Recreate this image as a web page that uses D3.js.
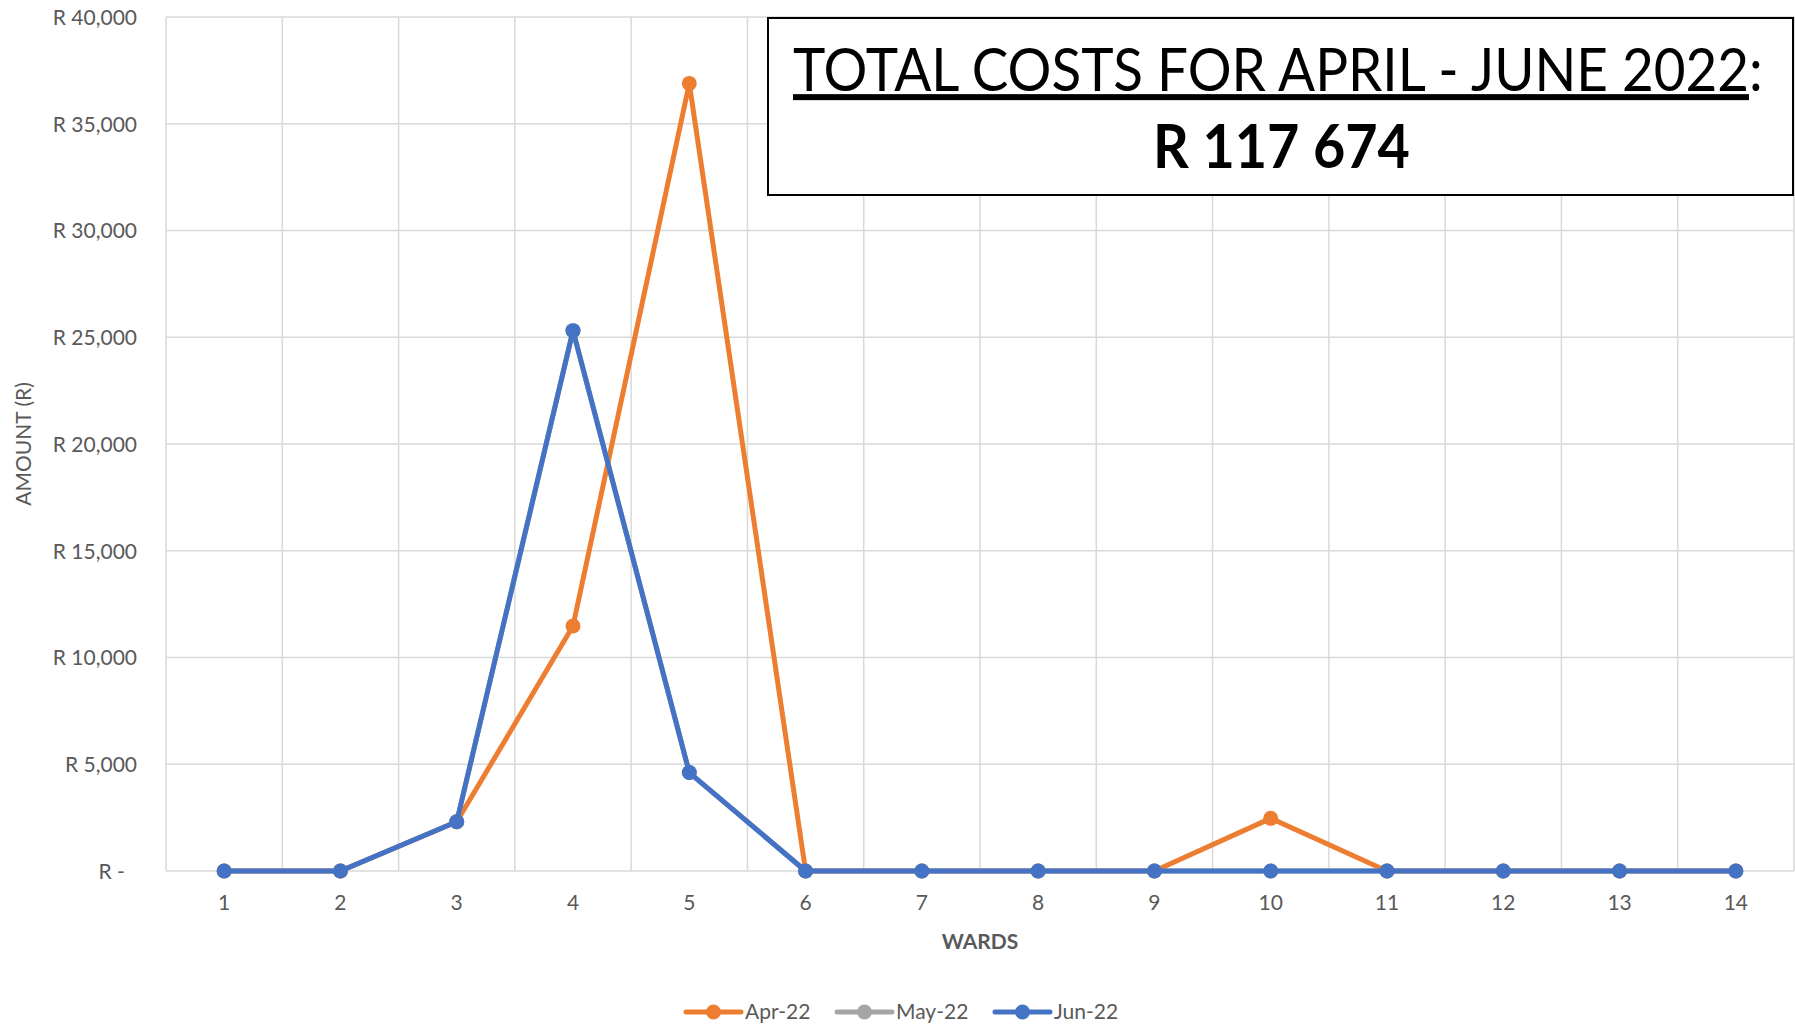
<!DOCTYPE html>
<html>
<head>
<meta charset="utf-8">
<script src="https://cdn.jsdelivr.net/npm/d3@7"></script>
<style>
    body { margin: 0; background: #fff; }
    svg { display: block; font-family: Lato, "Open Sans", sans-serif; }
</style>
</head>
<body>
<svg id="chart"></svg>
<script>
// chart data
const wards = [1, 2, 3, 4, 5, 6, 7, 8, 9, 10, 11, 12, 13, 14];
const apr22 = [0, 0, 2306, 11475, 36890, 0, 0, 0, 0, 2466, 0, 0, 0, 0];
const may22 = [0, 0, 2306, 25308, 4611, 0, 0, 0, 0, 0, 0, 0, 0, 0];
const jun22 = [0, 0, 2306, 25308, 4611, 0, 0, 0, 0, 0, 0, 0, 0, 0];
const seriesNames = ["Apr-22", "May-22", "Jun-22"];
const yTicks = [0, 5000, 10000, 15000, 20000, 25000, 30000, 35000, 40000];
const titleText = "TOTAL COSTS FOR APRIL - JUNE 2022";
const totalText = "R 117 674";

const colors = ["#ED7D31", "#A5A5A5", "#4472C4"];
const seriesValues = [apr22, may22, jun22];

let width = 1795, height = 1026;
let margin = { top: 17, right: 1, bottom: 155, left: 166 };
let fontFamily = "Lato, 'Open Sans', sans-serif";

let svg = d3.select("#chart")
    .attr("width", width)
    .attr("height", height);

let x = d3.scaleBand().domain(wards).range([margin.left, width - margin.right]).padding(0);
let y = d3.scaleLinear().domain([0, 40000]).range([height - margin.bottom, margin.top]);
let cx = d => x(d) + x.bandwidth() / 2;

// horizontal gridlines
svg.append("g")
    .selectAll("line")
    .data(yTicks)
    .join("line")
    .attr("x1", margin.left)
    .attr("x2", width - margin.right)
    .attr("y1", d => y(d))
    .attr("y2", d => y(d))
    .attr("stroke", "#d9d9d9")
    .attr("stroke-width", 1.5);

// vertical gridlines at band edges
let edges = wards.map(w => x(w)).concat([x(wards[wards.length - 1]) + x.bandwidth()]);
svg.append("g")
    .selectAll("line")
    .data(edges)
    .join("line")
    .attr("x1", d => d)
    .attr("x2", d => d)
    .attr("y1", y(40000))
    .attr("y2", y(0))
    .attr("stroke", "#d9d9d9")
    .attr("stroke-width", 1.5);

// Y axis labels
let yAxis = svg.append("g")
    .attr("transform", "translate(" + (margin.left - 29) + ",0)")
    .call(d3.axisLeft(y).tickValues(yTicks).tickSize(0)
        .tickFormat(d => d === 0 ? "R -\u2007" : "R " + d3.format(",")(d)));
yAxis.select(".domain").remove();
yAxis.attr("font-family", fontFamily).attr("font-size", 21);
yAxis.selectAll("text").attr("dy", "0.35em").attr("x", 0).attr("fill", "#595959");

// X axis labels
let xAxis = svg.append("g")
    .attr("transform", "translate(0," + y(0) + ")")
    .call(d3.axisBottom(x).tickSize(0));
xAxis.select(".domain").remove();
xAxis.attr("font-family", fontFamily).attr("font-size", 21);
xAxis.selectAll("text").attr("y", 39).attr("dy", 0).attr("fill", "#595959");

// axis titles
svg.append("text")
    .attr("x", cx(7) + x.bandwidth() / 2)
    .attr("y", 949)
    .attr("text-anchor", "middle")
    .attr("fill", "#595959")
    .attr("font-size", 21)
    .attr("font-weight", "bold")
    .text("WARDS");

svg.append("text")
    .attr("transform", "translate(31,444) rotate(-90)")
    .attr("text-anchor", "middle")
    .attr("fill", "#595959")
    .attr("font-size", 21)
    .text("AMOUNT (R)");

// lines and markers
let line = d3.line()
    .x((d, i) => cx(wards[i]))
    .y(d => y(d));

seriesValues.forEach((vals, s) => {
    let g = svg.append("g");
    g.append("path")
        .datum(vals)
        .attr("fill", "none")
        .attr("stroke", colors[s])
        .attr("stroke-width", 5)
        .attr("stroke-linejoin", "round")
        .attr("d", line);
    g.selectAll("circle")
        .data(vals)
        .join("circle")
        .attr("cx", (d, i) => cx(wards[i]))
        .attr("cy", d => y(d))
        .attr("r", 7.5)
        .attr("fill", colors[s]);
});

// legend
let legendX = [686, 837, 995];
let legend = svg.append("g");
seriesNames.forEach((name, i) => {
    let lg = legend.append("g").attr("transform", "translate(" + legendX[i] + ",1012)");
    lg.append("line")
        .attr("x1", 0).attr("x2", 55)
        .attr("stroke", colors[i])
        .attr("stroke-width", 5)
        .attr("stroke-linecap", "round");
    lg.append("circle").attr("cx", 27.5).attr("r", 7.5).attr("fill", colors[i]);
    lg.append("text")
        .attr("x", 59)
        .attr("dy", "0.35em")
        .attr("fill", "#595959")
        .attr("font-size", 21)
        .text(name);
});

// total costs box
let box = svg.append("g");
box.append("rect")
    .attr("x", 768).attr("y", 18)
    .attr("width", 1025).attr("height", 177)
    .attr("fill", "#fff")
    .attr("stroke", "#000")
    .attr("stroke-width", 2);

// squeeze text horizontally to the width seen in the reference
function fitText(sel, left, targetWidth, baseline) {
    let w = sel.node().getComputedTextLength();
    let k = targetWidth / w;
    sel.attr("transform", "translate(" + left + "," + baseline + ") scale(" + k + ",1)");
}

let title = box.append("text")
    .attr("font-size", 60)
    .attr("fill", "#000");
title.append("tspan")
    .style("text-decoration", "underline")
    .text(titleText);
title.append("tspan").text(":");
fitText(title, 793, 970, 91);

let total = box.append("text")
    .attr("font-size", 61)
    .attr("font-weight", "bold")
    .attr("fill", "#000")
    .text(totalText);
fitText(total, 1153, 257, 168);
</script>
</body>
</html>
